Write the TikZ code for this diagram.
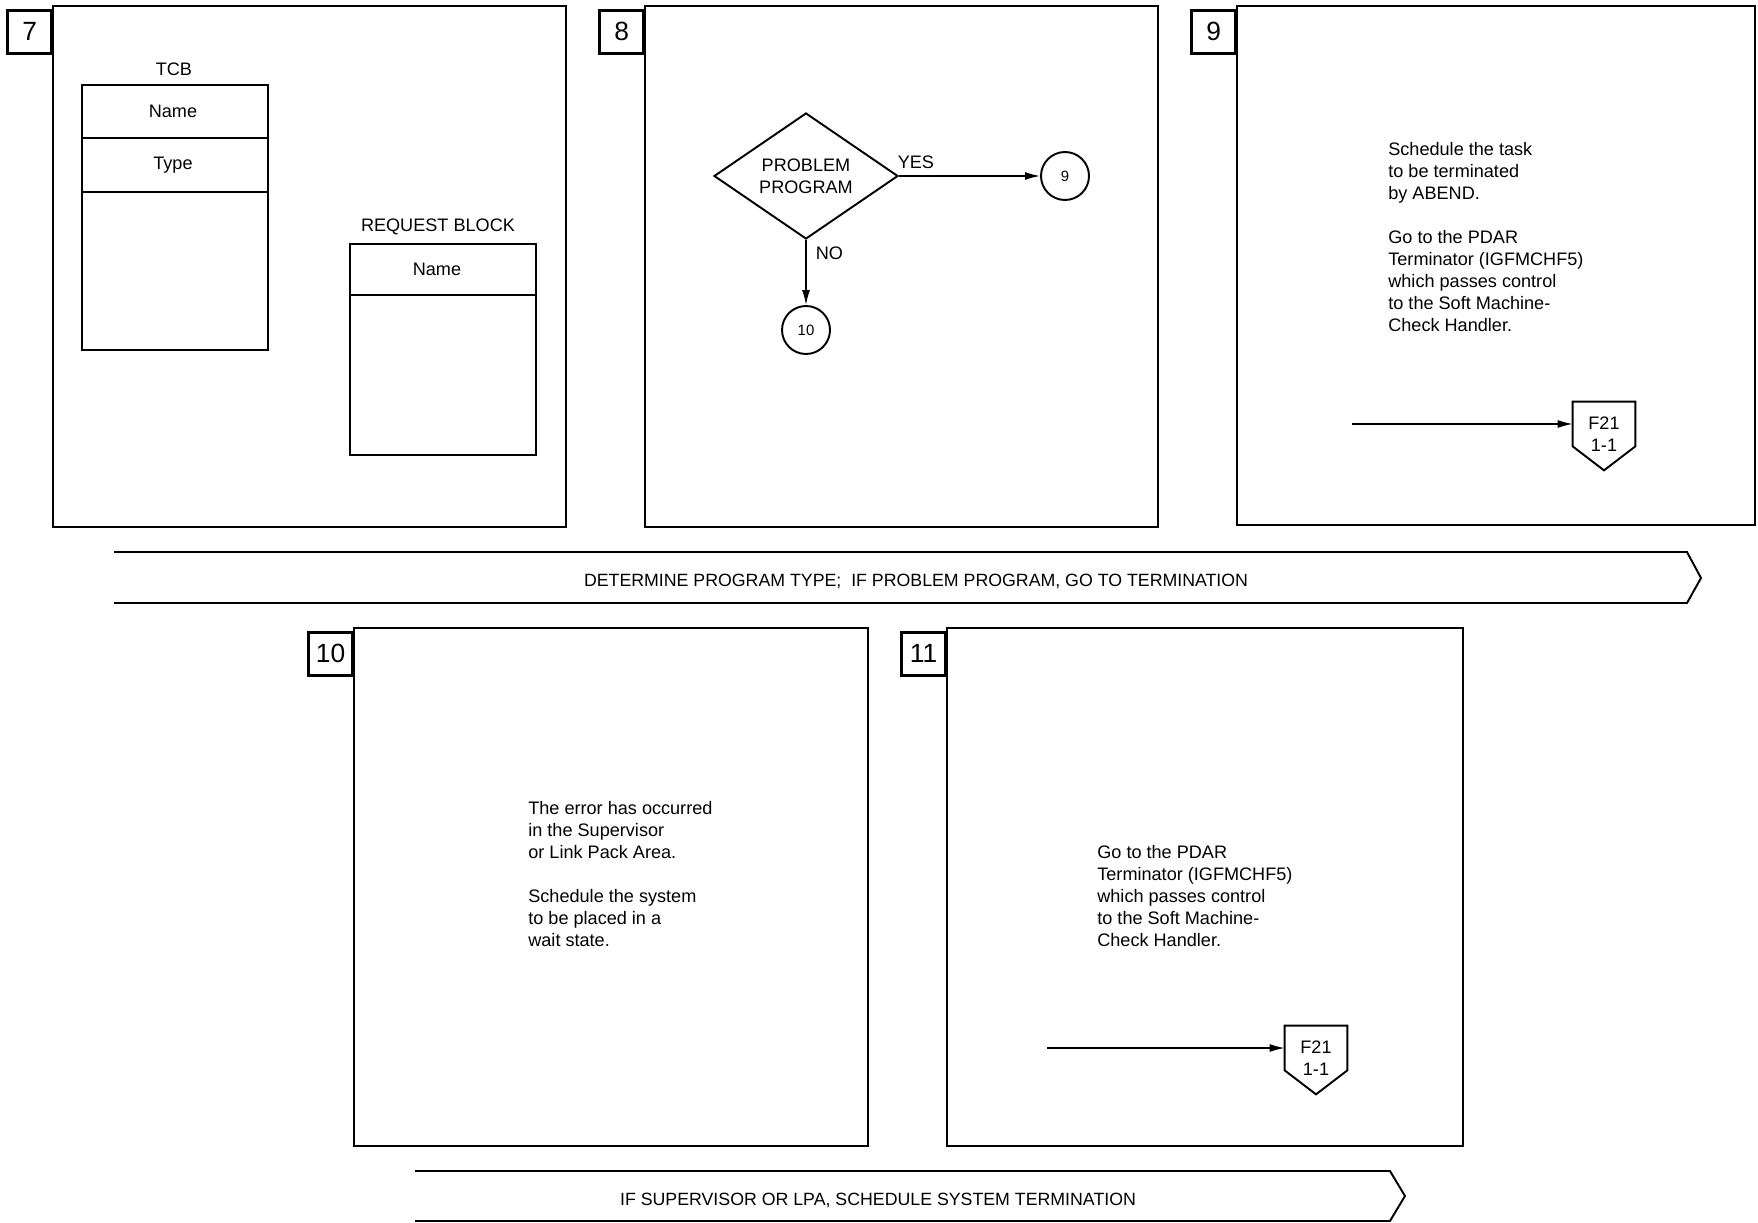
\documentclass[tikz,border=0pt]{standalone}
\usepackage{fontspec}
\setmainfont{Liberation Sans}
\usetikzlibrary{positioning,arrows.meta,shapes.geometric,calc}
\tikzset{
  frame-box/.style={draw, line width=1.6pt},
  num-box/.style={draw, line width=1.6pt, anchor=north east, minimum width=0.88cm,
    minimum height=0.86cm, inner sep=0pt, font=\fontsize{15}{18}\selectfont},
  block-box/.style={draw, line width=1.1pt, inner sep=0pt, anchor=north west},
  block-line/.style={line width=1.1pt},
  field-text/.style={inner sep=0pt, font=\fontsize{10.3}{12.5}\selectfont},
  note-text/.style={align=left, anchor=west, inner sep=0pt, font=\fontsize{10.3}{12.5}\selectfont},
  decision-node/.style={draw, diamond, line width=1.1pt, aspect=1.46, minimum width=3.68cm,
    minimum height=2.52cm, inner sep=0pt, align=center, font=\fontsize{10.3}{12.5}\selectfont},
  conn-node/.style={draw, circle, line width=1.1pt, minimum size=0.96cm, inner sep=0pt,
    font=\fontsize{8.5}{10}\selectfont},
  page-node/.style={minimum width=1.24cm, minimum height=0.88cm, inner sep=0pt},
  page-text/.style={inner sep=0pt, align=center, font=\fontsize{10.3}{12.5}\selectfont},
  page-outline/.style={line width=1.1pt, line join=miter},
  flow-arrow/.style={-{Latex[length=3mm, width=1.6mm]}, line width=0.8pt},
  banner-line/.style={line width=1.1pt},
  banner-text/.style={inner sep=0pt, font=\fontsize{10.1}{12}\selectfont}
}
\begin{document}
\begin{tikzpicture}[x=0.2mm, y=-0.2mm]
\useasboundingbox (0,0) rectangle (1758,1223);
% the five step frames with their number tabs
\foreach \n/\xa/\ya/\xb/\yb in {7/53/6/566/527, 8/645/6/1158/527, 9/1237/6/1755/525,
    10/354/628/868/1146, 11/947/628/1463/1146} {
  \draw[frame-box] (\xa,\ya) rectangle (\xb,\yb);
  \node[num-box] (num\n) at (\xa,\ya+3) {\n};
}
% step 7: control blocks
\node[block-box, minimum width=3.72cm, minimum height=5.3cm] (tcb) at (81,84) {};
\node[field-text, above=1.5mm of tcb, xshift=-0.2mm] (tcblabel) {TCB};
\draw[block-line] (81,138) -- (267,138);
\draw[block-line] (81,192) -- (267,192);
\node[field-text] (tcbname) at (173,111) {Name};
\node[field-text] (tcbtype) at (173,165) {Type};
\node[block-box, minimum width=3.72cm, minimum height=4.22cm] (rb) at (349,243) {};
\node[field-text, above=1.6mm of rb, xshift=-1mm] (rblabel) {REQUEST BLOCK};
\draw[block-line] (349,295) -- (535,295);
\node[field-text] (rbname) at (437,269) {Name};
% step 8: decision
\node[decision-node] (pp) at (806,176) {PROBLEM\\PROGRAM};
\node[conn-node] (c9) at (1065,176) {9};
\node[conn-node] (c10) at (806,330) {10};
\draw[flow-arrow] (pp.east) -- (c9);
\draw[flow-arrow] (pp.south) -- (c10);
\node[field-text, above right=1.3mm and -0.3mm of pp.east] (yes) {YES};
\node[field-text, below right=1.4mm and 1.9mm of pp.south] (no) {NO};
% step 9
\node[note-text] (txt9) at (1388,237) {Schedule the task\\to be terminated\\by ABEND.\\[12.5pt]%
  Go to the PDAR\\Terminator (IGFMCHF5)\\which passes control\\to the Soft Machine-\\Check Handler.};
\node[page-node] (f9) at (1604,424) {};
\node[page-text] (f9txt) at ([yshift=-2.1mm]f9.center) {F21\\1-1};
\coordinate (in9) at (1352,424);
\draw[flow-arrow] (in9) -- (f9.west);
% step 10
\node[note-text] (txt10) at (528,874) {The error has occurred\\in the Supervisor\\or Link Pack Area.\\[12.5pt]%
  Schedule the system\\to be placed in a\\wait state.};
% step 11
\node[note-text] (txt11) at (1097,896) {Go to the PDAR\\Terminator (IGFMCHF5)\\which passes control\\to the Soft Machine-\\Check Handler.};
\node[page-node] (f11) at (1316,1048) {};
\node[page-text] (f11txt) at ([yshift=-2.1mm]f11.center) {F21\\1-1};
\coordinate (in11) at (1047,1048);
\draw[flow-arrow] (in11) -- (f11.west);
% off-page connector outlines
\foreach \p in {f9,f11}
  \draw[page-outline] (\p.south west) -- (\p.north west) -- (\p.north east) -- (\p.south east)
    -- ($(\p.south)+(0,24)$) -- cycle;
% summary banners
\draw[banner-line] (114,552) -- (1687,552) -- (1701,578) -- (1687,603) -- (114,603);
\node[banner-text] (ban1) at (916,581) {DETERMINE PROGRAM TYPE;\ \ IF PROBLEM PROGRAM, GO TO TERMINATION};
\draw[banner-line] (415,1171) -- (1390,1171) -- (1405,1196) -- (1390,1221) -- (415,1221);
\node[banner-text] (ban2) at (878,1200) {IF SUPERVISOR OR LPA, SCHEDULE SYSTEM TERMINATION};
\end{tikzpicture}
\end{document}
